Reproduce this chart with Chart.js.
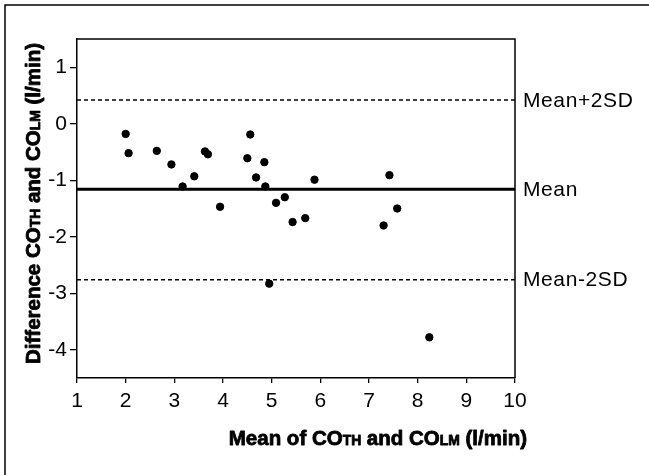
<!DOCTYPE html>
<html><head><meta charset="utf-8">
<script src="https://cdn.jsdelivr.net/npm/chart.js@4/dist/chart.umd.min.js"></script>
<style>html,body{margin:0;padding:0;background:#fff}#wrap{width:649px;height:475px;position:relative}</style>
</head><body><div id="wrap"><canvas id="c" width="649" height="475"></canvas></div>
<script>
const meanX = [2.00, 2.06, 2.64, 2.94, 3.17, 3.41, 3.63, 3.69, 3.94, 4.56, 4.50, 4.85, 4.68, 4.87, 5.09, 5.27, 5.43, 5.69, 5.88, 7.42, 7.58, 7.30, 4.95, 8.24];
const diffY = [-0.18, -0.52, -0.48, -0.72, -1.11, -0.93, -0.49, -0.54, -1.47, -0.19, -0.61, -0.68, -0.95, -1.11, -1.40, -1.30, -1.74, -1.67, -0.99, -0.91, -1.50, -1.80, -2.83, -3.78];
const xTicks = [1, 2, 3, 4, 5, 6, 7, 8, 9, 10];
const yTicks = [-4, -3, -2, -1, 0, 1];
const limitLabels = ['Mean+2SD', 'Mean', 'Mean-2SD'];
const limitValues = [0.42, -1.16, -2.76];
const xTitleParts = [['Mean of CO', 1], ['TH', 0.68], [' and CO', 1], ['LM', 0.68], [' (l/min)', 1]];
const yTitleParts = [['Difference CO', 1], ['TH', 0.68], [' and CO', 1], ['LM', 0.68], [' (l/min)', 1]];

const points = meanX.map((x, i) => ({ x: x, y: diffY[i] }));
const limitSets = limitValues.map((v, i) => ({
  type: 'line',
  data: [{ x: 1, y: v }, { x: 10, y: v }],
  borderColor: '#000',
  borderWidth: i === 1 ? 3 : 1.5,
  borderDash: i === 1 ? [] : [4, 3],
  pointRadius: 0,
  fill: false,
  order: 2
}));

const titleFont = 'bold SIZEpx "Liberation Sans", Arial, sans-serif';
function drawParts(ctx, parts, size, x, y, align) {
  let total = 0;
  const widths = parts.map(p => {
    ctx.font = titleFont.replace('SIZE', (size * p[1]).toFixed(1));
    const w = ctx.measureText(p[0]).width;
    total += w;
    return w;
  });
  let cx = align === 'right' ? x - total : (align === 'center' ? x - total / 2 : x);
  ctx.strokeStyle = '#000';
  ctx.lineWidth = 0.8;
  ctx.lineJoin = 'round';
  parts.forEach((p, i) => {
    ctx.font = titleFont.replace('SIZE', (size * p[1]).toFixed(1));
    ctx.fillText(p[0], cx, y);
    ctx.strokeText(p[0], cx, y);
    cx += widths[i];
  });
}

const deco = {
  id: 'deco',
  afterDraw(chart) {
    const ctx = chart.ctx;
    const a = chart.chartArea;
    const ys = chart.scales.y;
    ctx.save();
    // outer frame (top and left)
    ctx.strokeStyle = '#000';
    ctx.lineWidth = 1.5;
    ctx.beginPath();
    ctx.moveTo(5, 475); ctx.lineTo(5, 5); ctx.lineTo(649, 5);
    ctx.stroke();
    // plot box top and right
    ctx.beginPath();
    ctx.moveTo(a.left, a.top); ctx.lineTo(a.right, a.top); ctx.lineTo(a.right, a.bottom);
    ctx.stroke();
    // limit labels
    ctx.fillStyle = '#000';
    ctx.font = '21px "Liberation Sans", Arial, sans-serif';
    ctx.textBaseline = 'middle';
    ctx.textAlign = 'left';
    try { ctx.letterSpacing = '0.6px'; } catch (e) {}
    limitLabels.forEach((t, i) => {
      ctx.fillText(t, a.right + 8, ys.getPixelForValue(limitValues[i]) + 1);
    });
    try { ctx.letterSpacing = '0px'; } catch (e) {}
    // x title
    ctx.textBaseline = 'alphabetic';
    drawParts(ctx, xTitleParts, 20.5, 527, 445, 'right');
    // y title
    ctx.translate(40, (a.top + a.bottom) / 2 - 5);
    ctx.rotate(-Math.PI / 2);
    drawParts(ctx, yTitleParts, 20.5, 0, 0, 'center');
    ctx.restore();
  }
};

new Chart(document.getElementById('c'), {
  type: 'scatter',
  data: {
    datasets: [{
      data: points,
      backgroundColor: '#000',
      borderColor: '#000',
      pointRadius: 3.7,
      pointHoverRadius: 3.7,
      order: 1
    }].concat(limitSets)
  },
  options: {
    responsive: false,
    animation: false,
    devicePixelRatio: 1,
    layout: { padding: { left: 0, right: 134, top: 39, bottom: 0 } },
    plugins: { legend: { display: false }, tooltip: { enabled: false } },
    scales: {
      x: {
        type: 'linear', min: 1, max: 10,
        afterBuildTicks: s => { s.ticks = xTicks.map(v => ({ value: v })); },
        afterFit: s => { s.height = 97; },
        grid: { drawOnChartArea: false, drawTicks: true, tickLength: 5, color: '#000', lineWidth: 1.3 },
        border: { display: true, color: '#000', width: 1.5 },
        ticks: { color: '#000', font: { family: '"Liberation Sans", Arial, sans-serif', size: 21 }, padding: 6, maxRotation: 0, autoSkip: false }
      },
      y: {
        type: 'linear', min: -4.5, max: 1.5,
        afterBuildTicks: s => { s.ticks = yTicks.map(v => ({ value: v })); },
        afterFit: s => { s.width = 77; },
        grid: { drawOnChartArea: false, drawTicks: true, tickLength: 7, color: '#000', lineWidth: 1.3 },
        border: { display: true, color: '#000', width: 1.5 },
        ticks: { color: '#000', font: { family: '"Liberation Sans", Arial, sans-serif', size: 21 }, padding: 3 }
      }
    }
  },
  plugins: [deco]
});
</script>
</body></html>
